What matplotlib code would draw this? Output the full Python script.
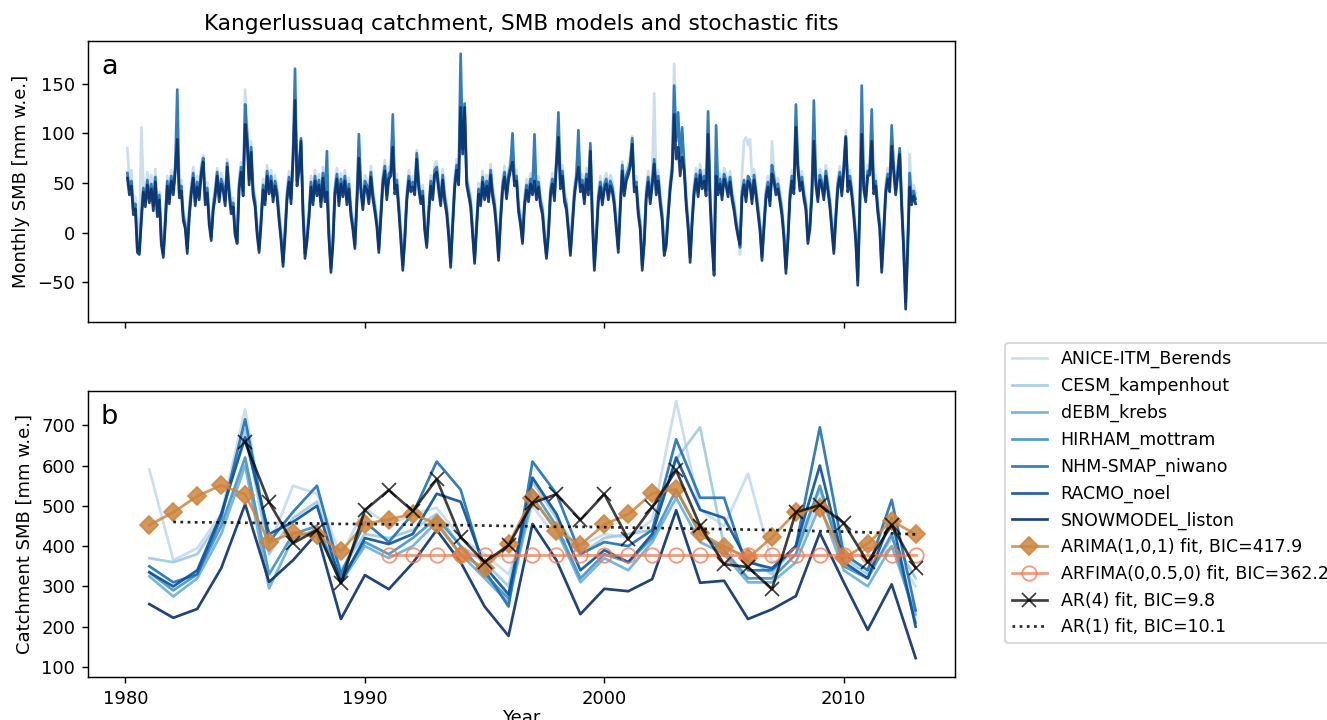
import numpy as np
import matplotlib.pyplot as plt
from matplotlib.ticker import MultipleLocator

# model names and annual catchment SMB (mm w.e.), 1981-2013
models = ['ANICE-ITM_Berends', 'CESM_kampenhout', 'dEBM_krebs', 'HIRHAM_mottram',
          'NHM-SMAP_niwano', 'RACMO_noel', 'SNOWMODEL_liston']
years = np.arange(1981, 2014)

anice_yr = [590, 365, 395, 480, 740, 400, 550, 530, 375, 495, 450, 480, 495, 420, 380, 330, 500,
            420, 400, 430, 420, 465, 760, 490, 450, 580, 360, 380, 520, 380, 340, 400, 300]
cesm_yr = [370, 360, 380, 470, 690, 380, 470, 510, 340, 430, 420, 440, 480, 400, 360, 300, 560,
           470, 380, 420, 430, 440, 615, 695, 400, 370, 330, 400, 540, 370, 330, 420, 320]
debm_yr = [325, 275, 320, 430, 600, 295, 420, 440, 310, 400, 370, 400, 460, 380, 320, 260, 520,
           440, 310, 370, 340, 410, 520, 410, 380, 310, 310, 360, 500, 340, 300, 400, 230]
hirham_yr = [335, 290, 330, 450, 620, 330, 430, 450, 320, 410, 380, 420, 470, 400, 330, 270, 540,
             450, 320, 380, 360, 420, 540, 430, 390, 320, 320, 380, 550, 350, 320, 430, 210]
nhm_yr = [350, 310, 330, 470, 715, 410, 485, 550, 330, 460, 410, 480, 610, 540, 340, 250, 610,
          530, 380, 410, 400, 440, 665, 520, 520, 340, 340, 400, 695, 380, 340, 515, 240]
racmo_yr = [335, 300, 340, 480, 670, 430, 460, 500, 310, 420, 405, 430, 530, 510, 350, 280, 570,
            480, 340, 390, 360, 430, 620, 490, 470, 360, 345, 400, 600, 360, 320, 470, 200]
snow_yr = [256, 222, 244, 345, 504, 311, 365, 432, 219, 328, 293, 358, 440, 360, 250, 177, 455,
           365, 231, 294, 288, 318, 489, 309, 314, 219, 243, 276, 433, 310, 192, 305, 122]

# stochastic fits
arima = [452, 484, 524, 551, 528, 410, 433, 428, 387, 455, 466, 480, 455, 379, 345, 405, 520,
         438, 403, 454, 479, 531, 541, 432, 399, 370, 422, 484, 494, 370, 406, 463, 429]
arfima_years = np.arange(1991, 2014)
arfima = [378, 378, 378, 378, 378, 378, 378, 378, 378, 378, 378, 378,
          378, 378, 378, 378, 378, 378, 378, 378, 378, 378, 378]
ar4_years = np.arange(1985, 2014)
ar4 = [658, 509, 407, 440, 308, 489, 539, 487, 566, 422, 360, 402, 507, 529, 465,
       529, 417, 497, 588, 450, 355, 348, 293, 484, 502, 457, 360, 452, 346]
ar1_years = np.arange(1982, 2014)
ar1 = [460, 459, 459, 458, 457, 457, 456, 455, 455, 454, 453, 452, 452, 451, 450, 449,
       448, 448, 447, 446, 445, 444, 443, 442, 441, 440, 439, 437, 436, 434, 432, 429]

# monthly SMB (mm w.e.), Jan 1980 - Dec 2012, one row per year
anice_mon = [
    [85, 52, 63, 31, 36, 8, -6, 106, 49, 38, 61, 42],
    [58, 34, 64, 29, 41, 3, -11, 24, 57, 41, 63, 49],
    [72, 92, 46, 53, 23, 14, -9, 27, 49, 66, 39, 57],
    [44, 69, 78, 39, 51, 18, 2, 31, 47, 65, 42, 60],
    [53, 39, 74, 49, 31, 35, 7, 1, 55, 71, 48, 144],
    [108, 59, 92, 48, 37, 9, -6, 20, 54, 39, 68, 50],
    [63, 42, 58, 47, 23, 4, -16, 9, 44, 62, 40, 83],
    [121, 58, 73, 86, 29, -6, 4, 25, 57, 39, 63, 48],
    [59, 37, 66, 42, 52, 6, -17, 3, 49, 65, 38, 60],
    [47, 63, 39, 55, 28, 14, 1, 42, 86, 52, 34, 58],
    [54, 40, 67, 45, 32, 17, -6, 25, 59, 73, 44, 65],
    [68, 96, 50, 59, 33, 4, -16, 4, 42, 63, 52, 57],
    [49, 83, 55, 40, 48, 13, -1, 29, 58, 44, 69, 72],
    [53, 38, 64, 42, 30, 7, -16, 17, 55, 74, 59, 150],
    [90, 118, 59, 48, 37, 8, -12, 15, 50, 38, 62, 44],
    [58, 42, 69, 47, 35, 13, -11, 22, 53, 67, 45, 64],
    [74, 82, 58, 63, 32, 19, 0, 37, 54, 42, 60, 49],
    [63, 44, 57, 38, 29, 5, -12, 8, 48, 60, 43, 79],
    [108, 55, 68, 42, 34, 12, -11, 18, 47, 63, 89, 52],
    [59, 40, 65, 49, 86, 23, -16, 5, 42, 57, 39, 54],
    [60, 44, 58, 52, 38, 15, -6, 35, 72, 48, 63, 69],
    [77, 97, 52, 57, 29, 14, -17, 0, 45, 62, 40, 58],
    [140, 49, 63, 40, 23, -6, -3, 27, 54, 72, 170, 96],
    [112, 79, 95, 74, 39, 15, -12, 20, 50, 65, 47, 69],
    [55, 63, 48, 112, 42, -1, -22, 71, 49, 60, 44, 65],
    [58, 47, 62, 44, 33, 18, 7, -22, 58, 92, 96, 88],
    [94, 57, 64, 48, 30, 13, -12, 15, 45, 57, 38, 92],
    [62, 49, 55, 42, 28, 5, -16, 2, 44, 63, 50, 115],
    [74, 53, 62, 45, 34, 0, 14, 48, 110, 59, 42, 64],
    [57, 44, 68, 53, 37, 14, -7, 24, 55, 67, 48, 73],
    [103, 52, 63, 48, 27, 2, -26, 33, 118, 54, 42, 68],
    [69, 101, 50, 58, 32, 15, -21, 8, 49, 65, 52, 96],
    [72, 49, 68, 82, 37, -7, -41, -6, 79, 39, 48, 40],
]
nhm_mon = [
    [60, 43, 52, 23, 29, -16, -18, 17, 45, 31, 53, 35],
    [49, 27, 56, 21, 38, -8, -21, 13, 52, 34, 57, 43],
    [66, 144, 40, 47, 17, 8, -16, 20, 43, 60, 32, 51],
    [38, 63, 75, 33, 45, 12, -5, 26, 41, 61, 36, 54],
    [47, 32, 70, 43, 24, 30, 0, -8, 49, 66, 42, 129],
    [99, 53, 86, 42, 31, 2, -16, 13, 48, 33, 62, 44],
    [57, 36, 52, 41, 17, -4, -30, 1, 38, 56, 34, 78],
    [165, 52, 67, 95, 23, -21, -5, 18, 51, 33, 57, 42],
    [53, 31, 60, 36, 82, -2, -36, -8, 43, 59, 32, 54],
    [41, 57, 33, 49, 22, 7, -12, 33, 99, 46, 28, 52],
    [48, 34, 61, 39, 26, 10, -16, 18, 53, 67, 38, 59],
    [62, 119, 44, 53, 27, -3, -33, -5, 36, 57, 46, 51],
    [43, 80, 49, 34, 42, 6, -11, 22, 52, 38, 63, 66],
    [47, 32, 58, 36, 24, 0, -30, 10, 49, 68, 53, 180],
    [84, 130, 53, 42, 31, 1, -27, 8, 44, 32, 56, 38],
    [52, 36, 63, 41, 29, 6, -24, 15, 47, 61, 39, 58],
    [68, 100, 52, 57, 26, 12, -8, 30, 48, 36, 54, 43],
    [99, 38, 51, 32, 23, -2, -22, 1, 42, 54, 37, 73],
    [121, 49, 62, 36, 28, 5, -19, 11, 41, 57, 103, 46],
    [53, 34, 59, 43, 90, 16, -33, -2, 36, 51, 33, 48],
    [54, 38, 52, 46, 32, 8, -16, 28, 68, 42, 57, 63],
    [71, 95, 46, 51, 23, 7, -33, -7, 39, 56, 34, 52],
    [74, 43, 57, 34, 17, -18, -10, 20, 48, 66, 148, 92],
    [121, 72, 106, 68, 33, 8, -25, 13, 44, 59, 41, 63],
    [49, 57, 42, 122, 36, -8, -38, 108, 43, 54, 38, 59],
    [52, 41, 56, 38, 27, 11, 0, -15, 41, 53, 36, 57],
    [53, 34, 58, 42, 24, 6, -24, 8, 39, 51, 32, 68],
    [56, 43, 49, 36, 22, -2, -36, -5, 38, 57, 44, 129],
    [68, 47, 56, 39, 28, -7, 7, 42, 133, 53, 36, 58],
    [51, 38, 62, 47, 31, 7, -17, 18, 49, 61, 42, 67],
    [97, 46, 57, 42, 21, -5, -48, 26, 148, 48, 36, 62],
    [63, 124, 44, 52, 26, 8, -35, 2, 43, 59, 46, 108],
    [66, 43, 62, 85, 31, -14, -70, -14, 60, 33, 42, 34],
]
snow_mon = [
    [55, 38, 47, 18, 24, -20, -22, 12, 41, 26, 48, 30],
    [44, 22, 51, 16, 33, -12, -25, 8, 47, 29, 52, 38],
    [61, 94, 35, 42, 12, 4, -21, 15, 38, 55, 27, 46],
    [33, 58, 71, 28, 40, 8, -8, 22, 36, 57, 31, 49],
    [42, 27, 66, 38, 19, 26, -3, -11, 44, 61, 37, 109],
    [92, 48, 81, 37, 26, -2, -20, 9, 43, 28, 57, 39],
    [52, 31, 47, 36, 12, -8, -34, -4, 33, 51, 29, 72],
    [133, 47, 62, 92, 18, -26, -9, 14, 46, 28, 52, 37],
    [48, 26, 55, 31, 41, -6, -40, -12, 38, 54, 27, 49],
    [36, 52, 28, 44, 17, 3, -16, 29, 75, 41, 23, 47],
    [43, 29, 56, 34, 21, 6, -20, 14, 48, 62, 33, 54],
    [57, 86, 39, 48, 22, -7, -38, -9, 31, 52, 41, 46],
    [38, 74, 44, 29, 37, 2, -15, 18, 47, 33, 58, 61],
    [42, 27, 53, 31, 19, -4, -35, 6, 44, 63, 48, 126],
    [79, 126, 48, 37, 26, -3, -31, 4, 39, 27, 51, 33],
    [47, 31, 58, 36, 24, 2, -28, 11, 42, 56, 34, 53],
    [63, 71, 47, 52, 21, 8, -11, 26, 43, 31, 49, 38],
    [52, 33, 46, 27, 18, -6, -26, -3, 37, 49, 32, 68],
    [96, 44, 57, 31, 23, 1, -23, 7, 36, 52, 66, 41],
    [48, 29, 54, 38, 82, 12, -38, -6, 31, 46, 28, 43],
    [49, 33, 47, 41, 27, 4, -20, 24, 62, 37, 52, 58],
    [66, 89, 41, 46, 18, 3, -38, -11, 34, 51, 29, 47],
    [69, 38, 52, 29, 12, -23, -14, 16, 43, 61, 119, 74],
    [86, 57, 76, 63, 28, 4, -30, 9, 39, 54, 36, 58],
    [44, 52, 37, 99, 31, -12, -43, 57, 38, 49, 33, 54],
    [47, 36, 51, 33, 22, 7, -4, -12, 36, 48, 31, 52],
    [48, 29, 53, 37, 19, 2, -28, 4, 34, 46, 27, 59],
    [51, 38, 44, 31, 17, -6, -41, -9, 33, 52, 39, 106],
    [63, 42, 51, 34, 23, -11, 3, 37, 92, 48, 31, 53],
    [46, 33, 57, 42, 26, 3, -21, 13, 44, 56, 37, 62],
    [96, 41, 52, 37, 16, -9, -53, 22, 99, 43, 31, 57],
    [58, 92, 39, 47, 21, 4, -40, -3, 38, 54, 41, 87],
    [61, 38, 57, 79, 26, -18, -77, -19, 46, 28, 37, 29],
]

annual = [anice_yr, cesm_yr, debm_yr, hirham_yr, nhm_yr, racmo_yr, snow_yr]
monthly = {0: anice_mon, 4: nhm_mon, 6: snow_mon}

colors = plt.cm.Blues(np.linspace(0.25, 1.0, 7))

fig = plt.figure(figsize=(1327 / 130, 720 / 130), dpi=130)
ax1 = fig.add_axes([0.0663, 0.5528, 0.6534, 0.3903])
ax2 = fig.add_axes([0.0663, 0.0597, 0.6534, 0.3972], sharex=ax1)

# a: monthly series
for i in [0, 4, 6]:
    vals = np.ravel(monthly[i])
    t = 1980 + (np.arange(len(vals)) + 1) / 12
    ax1.plot(t, vals, color=colors[i], alpha=0.9)
ax1.set_ylabel('Monthly SMB [mm w.e.]')
ax1.set_title('Kangerlussuaq catchment, SMB models and stochastic fits')
ax1.tick_params(labelbottom=False)
ax1.text(0.015, 0.955, 'a', transform=ax1.transAxes, fontsize=15, va='top')

# b: annual series and fits
for i, name in enumerate(models):
    ax2.plot(years, annual[i], color=colors[i], alpha=0.9, label=name)
ax2.plot(years, arima, color='peru', marker='D', ms=7, alpha=0.85,
         label='ARIMA(1,0,1) fit, BIC=417.9')
ax2.plot(arfima_years, arfima, color='#f07850', marker='o', ms=8, mfc='none', alpha=0.75,
         label='ARFIMA(0,0.5,0) fit, BIC=362.2')
ax2.plot(ar4_years, ar4, color='k', marker='x', ms=8, alpha=0.75, label='AR(4) fit, BIC=9.8')
ax2.plot(ar1_years, ar1, 'k:', alpha=0.85, label='AR(1) fit, BIC=10.1')
ax2.set_ylim(75, 785)
ax2.xaxis.set_major_locator(MultipleLocator(10))
ax2.yaxis.set_major_locator(MultipleLocator(100))
ax2.set_ylabel('Catchment SMB [mm w.e.]')
ax2.set_xlabel('Year', labelpad=1)
ax2.text(0.015, 0.955, 'b', transform=ax2.transAxes, fontsize=15, va='top')
ax2.legend(loc='upper left', bbox_to_anchor=(1.0577, 1.168), borderaxespad=0, fontsize=9.6)

fig.savefig('out.png', dpi=130)
